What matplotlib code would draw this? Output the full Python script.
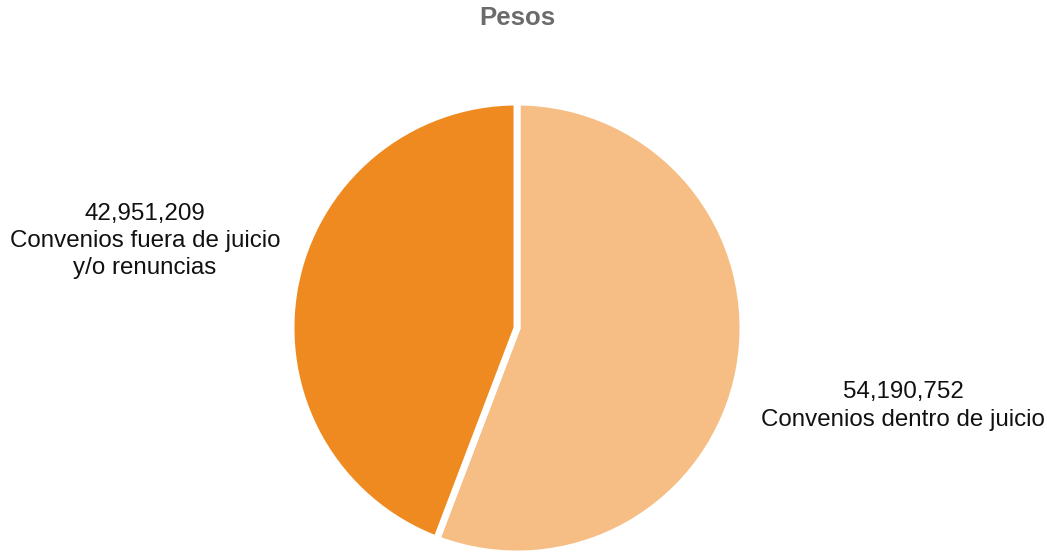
import matplotlib
matplotlib.use("Agg")
import matplotlib.pyplot as plt

categories = ["Convenios dentro de juicio", "Convenios fuera de juicio\ny/o renuncias"]
values = [54190752, 42951209]
colors = ["#F6BE85", "#EE8A1F"]
title = "Pesos"

plt.rcParams['font.family'] = ['Liberation Sans', 'DejaVu Sans']

W, H = 1047, 552
fig = plt.figure(figsize=(W / 100, H / 100), dpi=100)
ax = fig.add_axes([0, 0, 1, 1])
ax.set_xlim(0, W)
ax.set_ylim(0, H)
ax.set_aspect('equal')
ax.axis('off')

cx, cy, r = 517, H - 328, 226
ax.pie(values, colors=colors, startangle=90, counterclock=False,
       center=(cx, cy), radius=r, frame=True,
       wedgeprops=dict(edgecolor='white', linewidth=5))
ax.set_xlim(0, W)
ax.set_ylim(0, H)
ax.axis('off')

def fmt(v):
    return f"{v:,}"

ax.text(903, H - 406, fmt(values[0]) + "\n" + categories[0], ha='center', va='center',
        fontsize=17.4, color='#111111', linespacing=1.3)
ax.text(145, H - 241, fmt(values[1]) + "\n" + categories[1], ha='center', va='center',
        fontsize=17.4, color='#111111', linespacing=1.3)

fig.text(517 / W, 1 - 18 / H, title, ha='center', va='center', fontsize=18.5,
         fontweight='bold', color='#6B6B6B')

fig.savefig("out.png", dpi=100)
